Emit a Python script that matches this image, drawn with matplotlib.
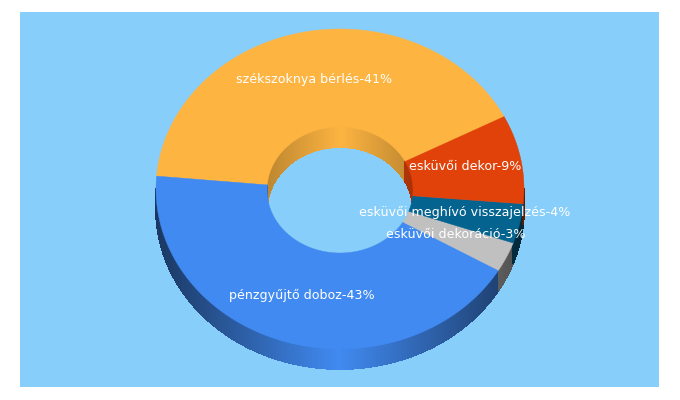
import numpy as np
import matplotlib
matplotlib.use('Agg')
import matplotlib.pyplot as plt
from matplotlib.collections import PolyCollection
from matplotlib.colors import to_rgb

# slices in drawing order, going anticlockwise from start_angle
labels = ['székszoknya bérlés-41%', 'pénzgyűjtő doboz-43%', 'esküvői dekoráció-3%',
          'esküvői meghívó visszajelzés-4%', 'esküvői dekor-9%']
values = [41.3, 42.8, 3.0, 4.0, 8.9]
colors = ['#FDB441', '#418AF1', '#C0C0C0', '#05648F', '#E1420A']

# where the label text sits, in pixels
label_x = [314, 302, 456, 465, 465]
label_y = [79, 295, 235, 212, 167]

background = '#87CEFA'
start_angle = 26.7
cx, cy = 340, 189
rx, ry = 184, 160
inner_rx, inner_ry = 73, 63
inner_shift = 1
depth = 20


def ring_point(angle, a, b, drop=0):
    t = np.radians(angle)
    return cx + a * np.cos(t), cy - b * np.sin(t) + drop


def shade(color, f):
    return tuple(c * f for c in to_rgb(color))


def wall(ax, a1, a2, color, a, b, strength, low, high, drop=0):
    # thin quads, the colour depends on how far each is from the middle
    a1, a2 = max(a1, low), min(a2, high)
    if a2 <= a1:
        return
    steps = np.arange(a1, a2 + 0.5, 0.5)
    quads, cols = [], []
    for s, e in zip(steps[:-1], steps[1:]):
        x1, y1 = ring_point(s, a, b, drop)
        x2, y2 = ring_point(e, a, b, drop)
        quads.append([(x1, y1), (x2, y2), (x2, y2 + depth), (x1, y1 + depth)])
        cols.append(shade(color, 1 - strength * abs(np.cos(np.radians((s + e) / 2)))))
    ax.add_collection(PolyCollection(quads, facecolors=cols, edgecolors=cols,
                                     linewidths=0.6, antialiaseds=False))


fig = plt.figure(figsize=(6.8, 4), dpi=100, facecolor='white')
ax = fig.add_axes([20 / 680, 1 - 387 / 400, 639 / 680, 375 / 400])
ax.set_xlim(20, 659)
ax.set_ylim(387, 12)
ax.set_facecolor(background)
ax.set_xticks([])
ax.set_yticks([])
for s in ax.spines.values():
    s.set_visible(False)

spans = np.array(values) / sum(values) * 360
ends = start_angle + np.cumsum(spans)
starts = ends - spans

# walls first, the top face covers whatever sticks out
for a1, a2, c in zip(starts, ends, colors):
    for shift in (-360, 0, 360):
        wall(ax, a1 + shift, a2 + shift, c, inner_rx, inner_ry, 0.25, 0, 180, inner_shift)
        wall(ax, a1 + shift, a2 + shift, c, rx, ry, 0.6, 180, 360)

# top face
for a1, a2, c in zip(starts, ends, colors):
    t = np.arange(a1, a2 + 0.25, 0.25)
    ox, oy = ring_point(t, rx, ry)
    ix, iy = ring_point(t[::-1], inner_rx, inner_ry, inner_shift)
    ax.fill(np.r_[ox, ix], np.r_[oy, iy], color=c, lw=0.3, zorder=3)

for name, x, y in zip(labels, label_x, label_y):
    ax.text(x, y, name, color='white', fontsize=9.05, family='DejaVu Sans',
            ha='center', va='center', zorder=5)

plt.savefig('out.png', dpi=100)
plt.close()
